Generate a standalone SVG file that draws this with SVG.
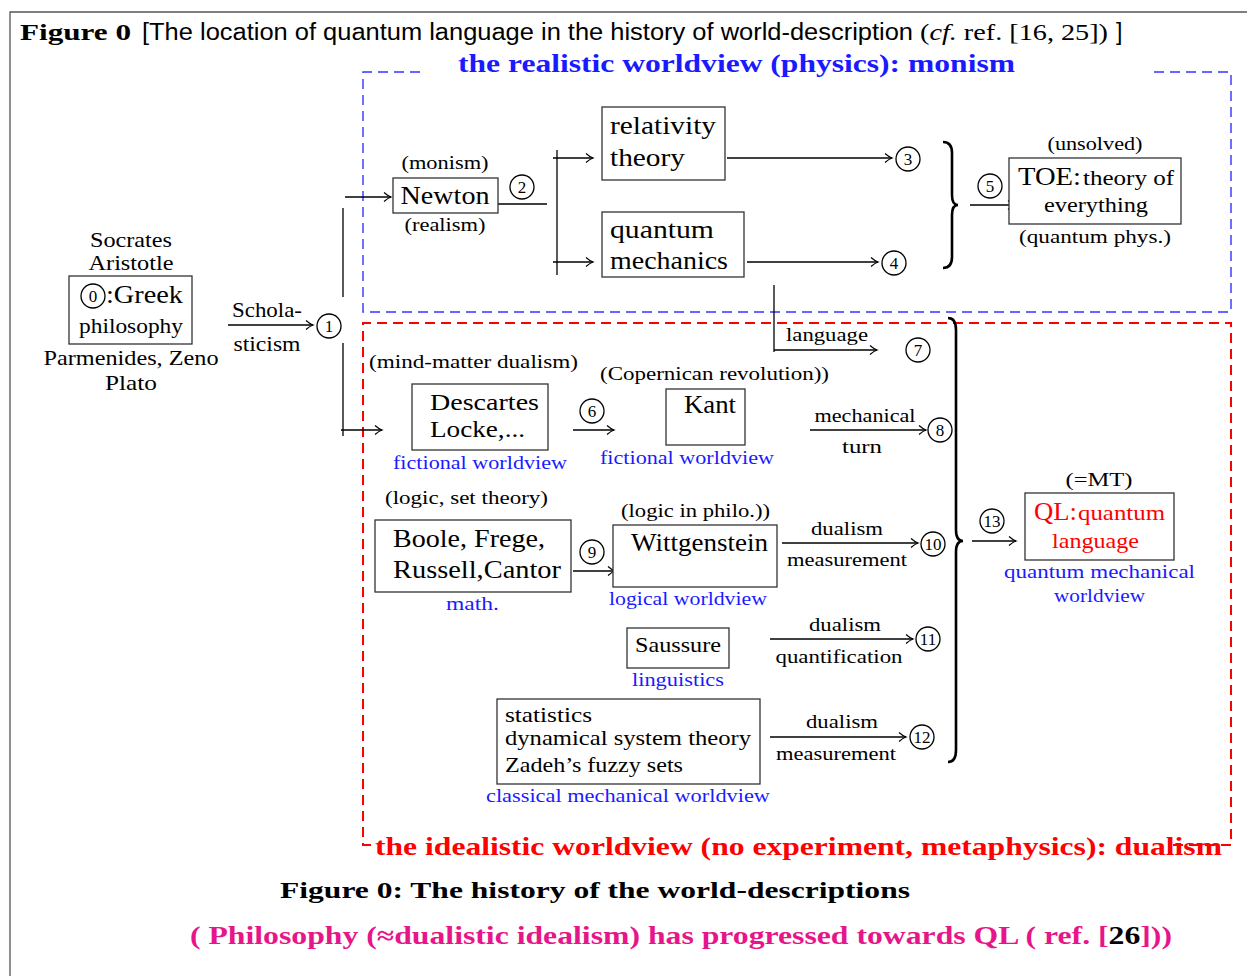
<svg xmlns="http://www.w3.org/2000/svg" width="1247" height="976" viewBox="0 0 1247 976">
<defs>
<marker id="ah" markerWidth="12" markerHeight="12" refX="10" refY="6" orient="auto" markerUnits="userSpaceOnUse">
<path d="M3,1.5 Q7,5 10,6 Q7,7 3,10.5" fill="none" stroke="#000" stroke-width="1.2"/>
</marker>
</defs>
<style>
text{font-family:"Liberation Serif","Times New Roman",serif;fill:#000}
.s17{font-size:18px}
.s19{font-size:19.5px}
.s20{font-size:21px}
.s25{font-size:26px}
.s23{font-size:23px}
.blue{fill:#1a1aff}
.red{fill:#ff0000}
.mid{text-anchor:middle}
.box{fill:#fff;stroke:#333;stroke-width:1.3}
.ln{fill:none;stroke:#000;stroke-width:1.3}
.arr{fill:none;stroke:#000;stroke-width:1.3;marker-end:url(#ah)}
.cir{fill:#fff;stroke:#000;stroke-width:1.3}
.num{font-size:17px;text-anchor:middle}
.brace{fill:none;stroke:#000;stroke-width:2.6}
</style>
<rect width="1247" height="976" fill="#fff"/>
<!-- frame -->
<path d="M10,976 L10,12 L1247,12" fill="none" stroke="#555" stroke-width="1.3"/>
<!-- title -->
<text x="20" y="40" style="font-size:24px;font-weight:bold" textLength="111" lengthAdjust="spacingAndGlyphs">Figure 0</text>
<text x="142" y="40" style="font-family:'Liberation Sans',Arial,sans-serif;font-size:23px" textLength="771" lengthAdjust="spacingAndGlyphs">[The location of quantum language in the history of world-description</text>
<text x="920" y="40" style="font-size:24px" textLength="188" lengthAdjust="spacingAndGlyphs">(<tspan font-style="italic">cf.</tspan> ref. [16, 25])</text>
<text x="1116" y="40" style="font-family:'Liberation Sans',Arial,sans-serif;font-size:23px">]</text>

<!-- regions -->
<g id="realistic-region">
<path d="M420,72 L363,72 L363,312 L1231,312 L1231,72 L1148,72" fill="none" stroke="#3333ff" stroke-width="1.4" stroke-dasharray="10,6"/>
<text x="458" y="72" style="font-size:26px;font-weight:bold;fill:#1a1aff" textLength="557" lengthAdjust="spacingAndGlyphs">the realistic worldview (physics): monism</text>
</g>
<g id="idealistic-region">
<path d="M371,845 L363,845 L363,323 L1231,323 L1231,845 L1172,845" fill="none" stroke="#ff0000" stroke-width="2" stroke-dasharray="10,6"/>
<text x="375" y="855" style="font-size:26px;font-weight:bold;fill:#ff0000" textLength="847" lengthAdjust="spacingAndGlyphs">the idealistic worldview (no experiment, metaphysics): dualism</text>
</g>

<!-- connectors -->
<g id="connectors">
<line class="arr" x1="228" y1="325" x2="313" y2="325"/>
<line class="ln" x1="343" y1="208" x2="343" y2="297"/>
<line class="ln" x1="343" y1="343" x2="343" y2="436"/>
<line class="arr" x1="345" y1="197" x2="391" y2="197"/>
<line class="arr" x1="341" y1="430" x2="382" y2="430"/>
<line class="ln" x1="498" y1="204" x2="547" y2="204"/>
<line class="ln" x1="557" y1="150" x2="557" y2="275"/>
<line class="arr" x1="553" y1="158" x2="593" y2="158"/>
<line class="arr" x1="553" y1="262" x2="593" y2="262"/>
<line class="arr" x1="727" y1="158" x2="892" y2="158"/>
<line class="arr" x1="747" y1="262" x2="878" y2="262"/>
<path class="brace" d="M943,142 Q952,142 952,153 L952,195 Q952,205 958,205 Q952,205 952,215 L952,257 Q952,268 943,268"/>
<line class="arr" x1="970" y1="205" x2="1015" y2="205"/>
<line class="ln" x1="774" y1="285" x2="774" y2="352"/>
<line class="arr" x1="774" y1="350" x2="877" y2="350"/>
<line class="arr" x1="573" y1="430" x2="614" y2="430"/>
<line class="arr" x1="810" y1="430" x2="926" y2="430"/>
<line class="arr" x1="573" y1="571" x2="615" y2="571"/>
<line class="arr" x1="782" y1="543" x2="918" y2="543"/>
<line class="arr" x1="770" y1="639" x2="913" y2="639"/>
<line class="arr" x1="770" y1="737" x2="906" y2="737"/>
<path class="brace" d="M948,318 Q956,318 956,330 L956,530 Q956,541 963,541 Q956,541 956,552 L956,750 Q956,762 948,762"/>
<line class="arr" x1="972" y1="541" x2="1016" y2="541"/>
</g>

<!-- edge labels -->
<g id="edge-labels">
<text class="s20 mid" x="267" y="317" textLength="70" lengthAdjust="spacingAndGlyphs">Schola-</text>
<text class="s20 mid" x="267" y="351" textLength="67" lengthAdjust="spacingAndGlyphs">sticism</text>
<text class="s17 mid" x="827" y="341" textLength="82" lengthAdjust="spacingAndGlyphs">language</text>
<text class="s17 mid" x="865" y="422" textLength="101" lengthAdjust="spacingAndGlyphs">mechanical</text>
<text class="s17 mid" x="862" y="453" textLength="40" lengthAdjust="spacingAndGlyphs">turn</text>
<text class="s17 mid" x="847" y="535" textLength="72" lengthAdjust="spacingAndGlyphs">dualism</text>
<text class="s17 mid" x="847" y="566" textLength="120" lengthAdjust="spacingAndGlyphs">measurement</text>
<text class="s17 mid" x="845" y="631" textLength="72" lengthAdjust="spacingAndGlyphs">dualism</text>
<text class="s17 mid" x="839" y="663" textLength="127" lengthAdjust="spacingAndGlyphs">quantification</text>
<text class="s17 mid" x="842" y="728" textLength="72" lengthAdjust="spacingAndGlyphs">dualism</text>
<text class="s17 mid" x="836" y="760" textLength="120" lengthAdjust="spacingAndGlyphs">measurement</text>
</g>

<!-- numbered circles -->
<g id="n1"><circle class="cir" cx="329" cy="326" r="12"/><text class="num" x="329" y="332">1</text></g>
<g id="n2"><circle class="cir" cx="522" cy="187" r="12"/><text class="num" x="522" y="193">2</text></g>
<g id="n3"><circle class="cir" cx="908" cy="159" r="12"/><text class="num" x="908" y="165">3</text></g>
<g id="n4"><circle class="cir" cx="894" cy="263" r="12"/><text class="num" x="894" y="269">4</text></g>
<g id="n5"><circle class="cir" cx="990" cy="186" r="12"/><text class="num" x="990" y="192">5</text></g>
<g id="n6"><circle class="cir" cx="592" cy="411" r="12"/><text class="num" x="592" y="417">6</text></g>
<g id="n7"><circle class="cir" cx="918" cy="350" r="12"/><text class="num" x="918" y="356">7</text></g>
<g id="n8"><circle class="cir" cx="940" cy="430" r="12"/><text class="num" x="940" y="436">8</text></g>
<g id="n9"><circle class="cir" cx="592" cy="552" r="12"/><text class="num" x="592" y="558">9</text></g>
<g id="n10"><circle class="cir" cx="933" cy="544" r="12"/><text class="num" x="933" y="550">10</text></g>
<g id="n11"><circle class="cir" cx="928" cy="639" r="12"/><text class="num" x="928" y="645">11</text></g>
<g id="n12"><circle class="cir" cx="922" cy="737" r="12"/><text class="num" x="922" y="743">12</text></g>
<g id="n13"><circle class="cir" cx="992" cy="521" r="12"/><text class="num" x="992" y="527">13</text></g>

<!-- nodes -->
<g id="greek">
<text class="s20 mid" x="131" y="247" textLength="82" lengthAdjust="spacingAndGlyphs">Socrates</text>
<text class="s20 mid" x="131" y="270" textLength="85" lengthAdjust="spacingAndGlyphs">Aristotle</text>
<rect class="box" x="69" y="276" width="123" height="68"/>
<circle class="cir" cx="93" cy="296" r="12"/><text class="num" x="93" y="302">0</text>
<text class="s25" x="106" y="303" textLength="77" lengthAdjust="spacingAndGlyphs">:Greek</text>
<text class="s20 mid" x="131" y="333" textLength="104" lengthAdjust="spacingAndGlyphs">philosophy</text>
<text class="s20 mid" x="131" y="365" textLength="175" lengthAdjust="spacingAndGlyphs">Parmenides, Zeno</text>
<text class="s20 mid" x="131" y="390" textLength="52" lengthAdjust="spacingAndGlyphs">Plato</text>
</g>
<g id="newton">
<text class="s17 mid" x="445" y="169" textLength="87" lengthAdjust="spacingAndGlyphs">(monism)</text>
<rect class="box" x="393" y="178" width="105" height="35"/>
<text class="s25 mid" x="445" y="204" textLength="89" lengthAdjust="spacingAndGlyphs">Newton</text>
<text class="s17 mid" x="445" y="231" textLength="81" lengthAdjust="spacingAndGlyphs">(realism)</text>
</g>
<g id="relativity">
<rect class="box" x="602" y="107" width="123" height="73"/>
<text class="s25" x="610" y="134" textLength="106" lengthAdjust="spacingAndGlyphs">relativity</text>
<text class="s25" x="610" y="166" textLength="75" lengthAdjust="spacingAndGlyphs">theory</text>
</g>
<g id="qm">
<rect class="box" x="602" y="212" width="142" height="65"/>
<text class="s25" x="610" y="238" textLength="104" lengthAdjust="spacingAndGlyphs">quantum</text>
<text class="s25" x="610" y="269" textLength="118" lengthAdjust="spacingAndGlyphs">mechanics</text>
</g>
<g id="toe">
<text class="s17 mid" x="1095" y="150" textLength="95" lengthAdjust="spacingAndGlyphs">(unsolved)</text>
<rect class="box" x="1009" y="158" width="172" height="66"/>
<text class="s25" x="1018" y="185" textLength="63" lengthAdjust="spacingAndGlyphs">TOE:</text>
<text class="s20" x="1083" y="185" textLength="91" lengthAdjust="spacingAndGlyphs">theory of</text>
<text class="s20 mid" x="1096" y="212" textLength="104" lengthAdjust="spacingAndGlyphs">everything</text>
<text class="s17 mid" x="1095" y="243" textLength="152" lengthAdjust="spacingAndGlyphs">(quantum phys.)</text>
</g>
<g id="descartes">
<text class="s17" x="369" y="368" textLength="209" lengthAdjust="spacingAndGlyphs">(mind-matter dualism)</text>
<rect class="box" x="412" y="384" width="136" height="66"/>
<text class="s23" x="430" y="410" textLength="109" lengthAdjust="spacingAndGlyphs">Descartes</text>
<text class="s23" x="430" y="437" textLength="95" lengthAdjust="spacingAndGlyphs">Locke,...</text>
<text class="s19 blue" x="393" y="469" textLength="174" lengthAdjust="spacingAndGlyphs">fictional worldview</text>
</g>
<g id="kant">
<text class="s17" x="600" y="380" textLength="229" lengthAdjust="spacingAndGlyphs">(Copernican revolution))</text>
<rect class="box" x="666" y="389" width="79" height="56"/>
<text class="s25" x="684" y="413" textLength="52" lengthAdjust="spacingAndGlyphs">Kant</text>
<text class="s19 blue" x="600" y="464" textLength="174" lengthAdjust="spacingAndGlyphs">fictional worldview</text>
</g>
<g id="boole">
<text class="s17" x="385" y="504" textLength="163" lengthAdjust="spacingAndGlyphs">(logic, set theory)</text>
<rect class="box" x="375" y="520" width="196" height="72"/>
<text class="s25" x="393" y="547" textLength="152" lengthAdjust="spacingAndGlyphs">Boole, Frege,</text>
<text class="s25" x="393" y="578" textLength="168" lengthAdjust="spacingAndGlyphs">Russell,Cantor</text>
<text class="s19 blue" x="446" y="610" textLength="53" lengthAdjust="spacingAndGlyphs">math.</text>
</g>
<g id="wittgenstein">
<text class="s17" x="621" y="517" textLength="149" lengthAdjust="spacingAndGlyphs">(logic in philo.))</text>
<rect class="box" x="613" y="525" width="164" height="62"/>
<text class="s25" x="631" y="551" textLength="137" lengthAdjust="spacingAndGlyphs">Wittgenstein</text>
<text class="s19 blue" x="609" y="605" textLength="158" lengthAdjust="spacingAndGlyphs">logical worldview</text>
</g>
<g id="saussure">
<rect class="box" x="627" y="628" width="102" height="40"/>
<text class="s20" x="635" y="652" textLength="86" lengthAdjust="spacingAndGlyphs">Saussure</text>
<text class="s19 blue" x="632" y="686" textLength="92" lengthAdjust="spacingAndGlyphs">linguistics</text>
</g>
<g id="statistics">
<rect class="box" x="497" y="699" width="263" height="85"/>
<text class="s20" x="505" y="722" textLength="87" lengthAdjust="spacingAndGlyphs">statistics</text>
<text class="s20" x="505" y="745" textLength="246" lengthAdjust="spacingAndGlyphs">dynamical system theory</text>
<text class="s20" x="505" y="772" textLength="178" lengthAdjust="spacingAndGlyphs">Zadeh’s fuzzy sets</text>
<text class="s19 blue" x="486" y="802" textLength="284" lengthAdjust="spacingAndGlyphs">classical mechanical worldview</text>
</g>
<g id="ql">
<text class="s17 mid" x="1099" y="486" textLength="67" lengthAdjust="spacingAndGlyphs">(=MT)</text>
<rect class="box" x="1025" y="493" width="149" height="67"/>
<text class="s25 red" x="1034" y="520" textLength="43" lengthAdjust="spacingAndGlyphs">QL:</text>
<text class="s20 red" x="1078" y="520" textLength="87" lengthAdjust="spacingAndGlyphs">quantum</text>
<text class="s20 red" x="1052" y="548" textLength="87" lengthAdjust="spacingAndGlyphs">language</text>
<text class="s19 blue" x="1004" y="578" textLength="191" lengthAdjust="spacingAndGlyphs">quantum mechanical</text>
<text class="s19 blue" x="1054" y="602" textLength="91" lengthAdjust="spacingAndGlyphs">worldview</text>
</g>

<!-- caption -->
<text x="280" y="898" style="font-size:24px;font-weight:bold" textLength="630" lengthAdjust="spacingAndGlyphs">Figure 0: The history of the world-descriptions</text>
<text x="190" y="944" style="font-size:25px;font-weight:bold;fill:#e6168a" textLength="982" lengthAdjust="spacingAndGlyphs">( Philosophy (≈dualistic idealism) has progressed towards QL ( ref. [<tspan style="fill:#000">26</tspan>]))</text>
</svg>
